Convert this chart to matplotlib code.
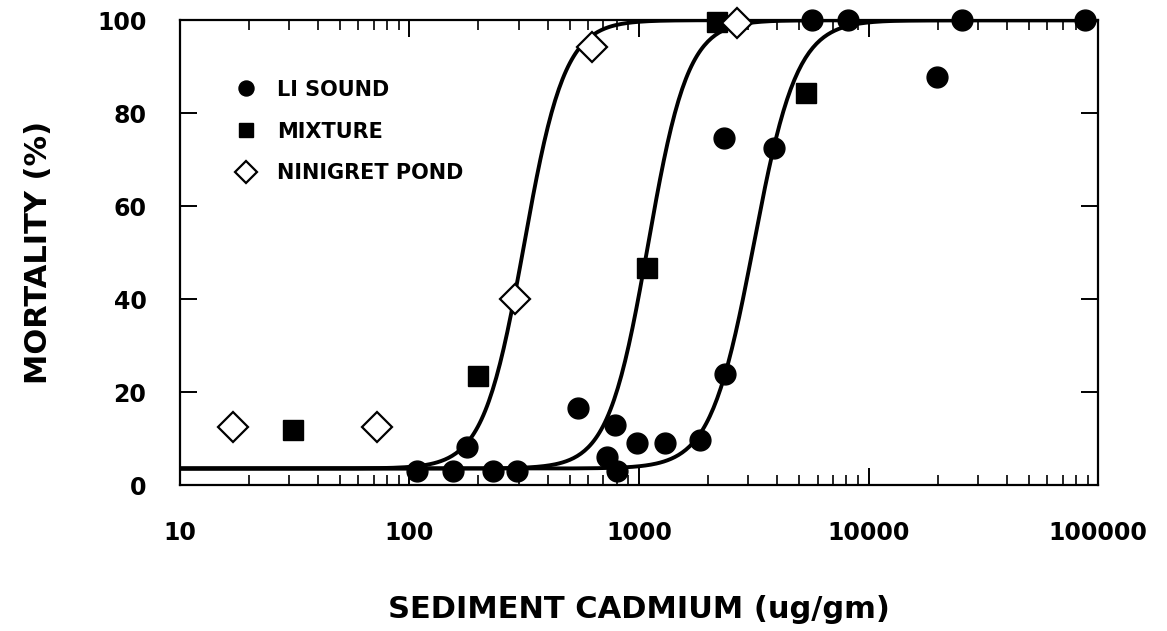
import numpy as np
import matplotlib.pyplot as plt

# data
li_x = [108, 155, 178, 231, 294, 542, 785, 726, 802, 976, 1297, 1846, 2371,
        2345, 3873, 5675, 8130, 19950, 25500, 87700]
li_y = [3, 3, 8.2, 3, 3, 16.6, 12.9, 6, 3, 9, 9, 9.7, 23.9,
        74.6, 72.5, 100, 100, 87.8, 100, 100]

mix_x = [31, 199, 1084, 2190, 5350]
mix_y = [11.8, 23.4, 46.7, 99.6, 84.3]

nin_x = [17, 72, 288, 624, 2670]
nin_y = [12.5, 12.5, 40, 94.2, 99.4]

# fitted dose-response curves: log10(LC50), slope, control mortality
curve_lc50 = [2.50, 3.04, 3.50]      # Ninigret, Mixture, LI Sound
curve_slope = [4.9, 5.0, 4.6]
curve_base = 3.6

plt.rcParams['font.family'] = 'DejaVu Sans'
plt.rcParams['font.weight'] = 'bold'

fig = plt.figure(figsize=(11.67, 6.31), dpi=100)
ax = fig.add_axes([0.154, 0.231, 0.787, 0.737])

xx = np.logspace(1, 5, 500)
for lc, s in zip(curve_lc50, curve_slope):
    yy = curve_base + (100 - curve_base) / (1 + 10 ** (-s * (np.log10(xx) - lc)))
    ax.plot(xx, yy, color='black', lw=2.8, zorder=2)

ax.plot(li_x, li_y, 'o', color='black', ms=15, zorder=3, clip_on=False, label='LI SOUND')
ax.plot(mix_x, mix_y, 's', color='black', ms=14, zorder=3, clip_on=False, label='MIXTURE')
ax.plot(nin_x, nin_y, 'D', mfc='white', mec='black', mew=1.6, ms=15,
        zorder=4, clip_on=False, label='NINIGRET POND')

ax.set_xscale('log')
ax.set_xlim(10, 100000)
ax.set_ylim(0, 100)
ax.set_xticks([10, 100, 1000, 10000, 100000])
ax.set_xticklabels(['10', '100', '1000', '10000', '100000'])
ax.set_yticks([0, 20, 40, 60, 80, 100])

ax.tick_params(axis='both', which='major', direction='in', top=True, right=True,
               length=12, width=1.4, labelsize=17)
ax.tick_params(axis='x', which='major', pad=26)
ax.tick_params(axis='y', which='major', pad=24)
ax.tick_params(axis='x', which='minor', direction='in', top=True, length=7, width=1.2)
ax.tick_params(axis='y', which='minor', left=False, right=False)
for sp in ax.spines.values():
    sp.set_linewidth(1.6)

ax.set_xlabel('SEDIMENT CADMIUM (ug/gm)', fontsize=22, fontweight='bold', labelpad=36)
ax.set_ylabel('MORTALITY (%)', fontsize=22, fontweight='bold', labelpad=32)

ax.legend(loc='upper left', bbox_to_anchor=(0.061, 0.872), frameon=False,
          fontsize=15, markerscale=0.72, handlelength=1.0, handletextpad=1.0,
          labelspacing=1.05, borderpad=0, borderaxespad=0)

fig.savefig('out.png', dpi=100)
